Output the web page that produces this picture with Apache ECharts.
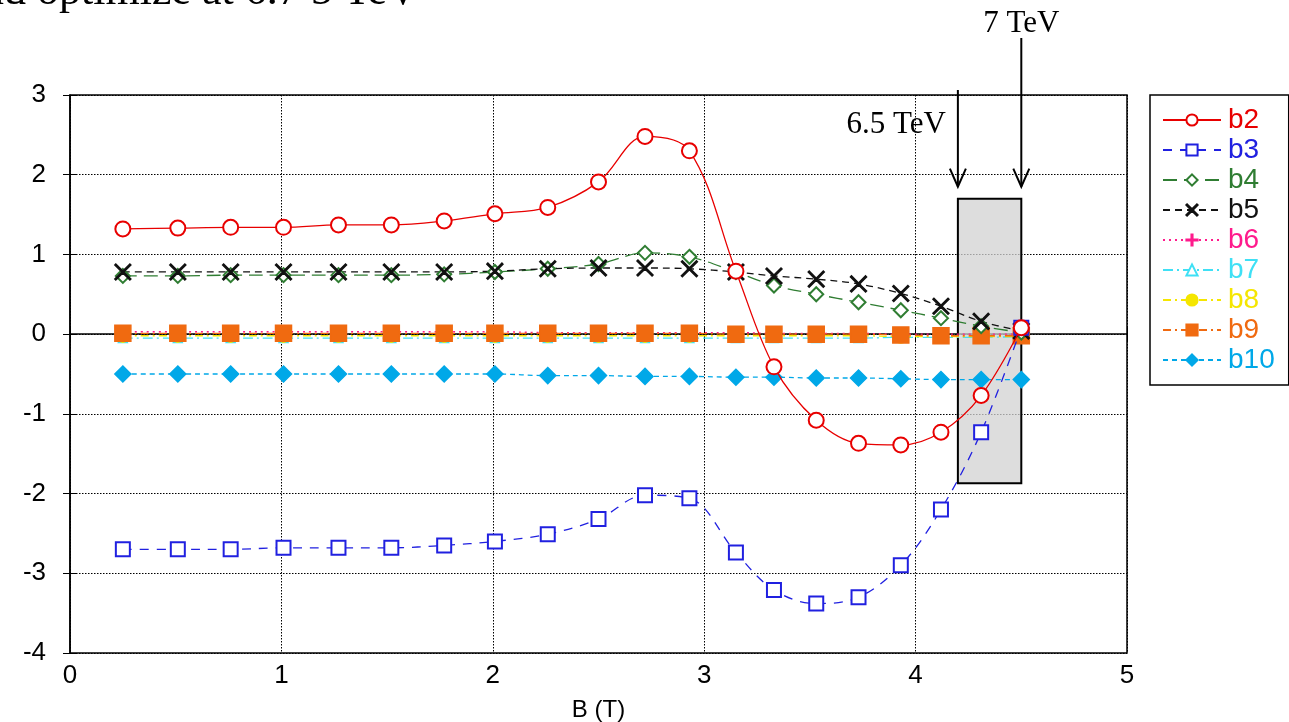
<!DOCTYPE html>
<html>
<head>
<meta charset="utf-8">
<script src="https://cdn.jsdelivr.net/npm/echarts@6/dist/echarts.min.js"></script>
<style>
  html, body { margin: 0; padding: 0; background: #fff; }
  #main { width: 1289px; height: 722px; }
</style>
</head>
<body>
<div id="main"></div>
<script>
// field values
var B = [0.25, 0.51, 0.76, 1.01, 1.27, 1.52, 1.77, 2.01, 2.26, 2.5, 2.72, 2.93, 3.15, 3.33, 3.53, 3.73, 3.93, 4.12, 4.31, 4.5];

var b2 = [1.32, 1.33, 1.34, 1.34, 1.37, 1.37, 1.42, 1.51, 1.59, 1.91, 2.48, 2.30, 0.79, -0.41, -1.08, -1.37, -1.39, -1.23, -0.77, 0.08];
var b3 = [-2.70, -2.70, -2.70, -2.68, -2.68, -2.68, -2.65, -2.60, -2.51, -2.32, -2.02, -2.06, -2.74, -3.21, -3.38, -3.30, -2.90, -2.20, -1.23, 0.08];
var b4 = [0.73, 0.73, 0.74, 0.74, 0.74, 0.74, 0.75, 0.78, 0.82, 0.88, 1.02, 0.97, 0.78, 0.61, 0.50, 0.40, 0.30, 0.20, 0.10, 0.02];
var b5 = [0.78, 0.78, 0.78, 0.78, 0.78, 0.78, 0.78, 0.79, 0.82, 0.83, 0.83, 0.82, 0.78, 0.73, 0.69, 0.63, 0.51, 0.35, 0.16, 0.04];
var b6 = [0.03, 0.03, 0.03, 0.03, 0.03, 0.03, 0.03, 0.03, 0.02, 0.02, 0.02, 0.02, 0.02, 0.01, 0.01, 0.01, 0.0, 0.0, 0.0, 0.0];
var b7 = [-0.05, -0.05, -0.05, -0.05, -0.05, -0.05, -0.05, -0.05, -0.05, -0.05, -0.05, -0.05, -0.05, -0.05, -0.05, -0.05, -0.04, -0.04, -0.04, -0.03];
var b8 = [-0.02, -0.02, -0.02, -0.02, -0.02, -0.02, -0.02, -0.02, -0.02, -0.02, -0.02, -0.02, -0.02, -0.02, -0.02, -0.02, -0.03, -0.03, -0.03, -0.03];
var b9 = [0.01, 0.01, 0.01, 0.01, 0.01, 0.01, 0.01, 0.01, 0.01, 0.01, 0.01, 0.01, 0.0, 0.0, 0.0, 0.0, -0.01, -0.02, -0.02, -0.02];
var b10 = [-0.50, -0.50, -0.50, -0.50, -0.50, -0.50, -0.50, -0.50, -0.52, -0.52, -0.53, -0.53, -0.54, -0.54, -0.55, -0.55, -0.56, -0.57, -0.57, -0.57];

var xTicks = [0, 1, 2, 3, 4, 5];
var yTicks = [-4, -3, -2, -1, 0, 1, 2, 3];

// shaded window between 6.5 TeV and 7 TeV
var windowB = [4.2, 4.5];
var windowY = [-1.87, 1.7];
var arrowTipY = 1.85;

var crossPath = 'path://M0,0.6L0.6,0L5,4.4L9.4,0L10,0.6L5.6,5L10,9.4L9.4,10L5,5.6L0.6,10L0,9.4L4.4,5Z';
var plusPath = 'path://M4.5,0H5.5V4.5H10V5.5H5.5V10H4.5V5.5H0V4.5H4.5Z';

function pairs(ys) {
    return B.map(function (b, i) { return [b, ys[i]]; });
}

function mk(name, ys, color, symbol, size, dash, width, z) {
    return {
        name: name,
        type: 'line',
        data: pairs(ys),
        smooth: 0.35,
        symbol: symbol,
        symbolSize: size,
        z: z,
        color: color,
        lineStyle: { color: color, width: width || 1.3, type: dash },
        itemStyle: { color: color, borderColor: color, borderWidth: 1.5 },
        emphasis: { disabled: true },
        animation: false
    };
}

var series = [
    mk('b10', b10, '#00a8e8', 'diamond', 16, [5, 4], 1.3, 2),
    mk('b7', b7, '#3fe0f5', 'emptyTriangle', 8, [10, 4, 2, 4], 1.3, 2),
    mk('b8', b8, '#f5e600', 'circle', 13, [8, 4, 2, 4], 1.3, 2),
    mk('b6', b6, '#ff1a8c', plusPath, 8, [2, 4], 1.3, 2),
    mk('b9', b9, '#f06a10', 'rect', 16, [8, 4, 2, 4], 1.3, 3),
    mk('b4', b4, '#2f7d32', 'emptyDiamond', 14, [14, 7], 1.3, 4),
    mk('b5', b5, '#111111', crossPath, 16, [7, 5], 1.3, 4),
    mk('b3', b3, '#2020e0', 'emptyRect', 14, [9, 8], 1.3, 5),
    mk('b2', b2, '#e80000', 'emptyCircle', 15, 'solid', 1.3, 6),
    {
        type: 'line',
        data: [],
        z: 8,
        silent: true,
        markArea: {
            silent: true,
            itemStyle: { color: 'rgba(210,210,210,0.75)', borderColor: '#000', borderWidth: 2 },
            data: [[{ coord: [windowB[0], windowY[1]] }, { coord: [windowB[1], windowY[0]] }]]
        }
    }
];

var legendNames = ['b2', 'b3', 'b4', 'b5', 'b6', 'b7', 'b8', 'b9', 'b10'];
var legendColors = {
    b2: '#e80000', b3: '#2020e0', b4: '#2f7d32', b5: '#111111', b6: '#ff1a8c',
    b7: '#3fe0f5', b8: '#f5e600', b9: '#f06a10', b10: '#00a8e8'
};

var chart = echarts.init(document.getElementById('main'), null, { renderer: 'canvas' });

var sans = 'Liberation Sans, Arial, sans-serif';
var labelFont = { fontFamily: sans, fontSize: 26, color: '#000' };

var option = {
    backgroundColor: '#ffffff',
    animation: false,
    grid: {
        left: 70, right: 162, top: 95, bottom: 69,
        outerBoundsMode: 'none',
        show: true, borderColor: '#000', borderWidth: 1.5, backgroundColor: 'transparent'
    },
    legend: {
        orient: 'vertical',
        left: 1150,
        top: 95,
        padding: [11, 14, 11, 12],
        itemGap: 2,
        itemWidth: 58,
        itemHeight: 14,
        backgroundColor: '#fff',
        borderColor: '#000',
        borderWidth: 1.5,
        selectedMode: false,
        textStyle: { fontFamily: sans, fontSize: 28, lineHeight: 28, padding: [0, 0, 0, 2] },
        data: legendNames.map(function (n) {
            return { name: n, textStyle: { color: legendColors[n] } };
        })
    },
    xAxis: [{
        type: 'value',
        min: xTicks[0], max: xTicks[xTicks.length - 1], interval: 1,
        name: 'B (T)', nameLocation: 'middle', nameGap: 45,
        nameTextStyle: { fontFamily: sans, fontSize: 24, color: '#000' },
        axisLine: { lineStyle: { color: '#000', width: 1.5 } },
        axisTick: { inside: true, length: 7, lineStyle: { color: '#000' } },
        axisLabel: Object.assign({ margin: 10 }, labelFont),
        splitLine: { show: true, lineStyle: { color: '#000', type: [1.5, 1.5], width: 1 } }
    }, {
        type: 'value', position: 'top',
        min: xTicks[0], max: xTicks[xTicks.length - 1], interval: 1,
        axisLine: { show: false },
        axisTick: { inside: true, length: 7, lineStyle: { color: '#000' } },
        axisLabel: { show: false }, splitLine: { show: false }
    }],
    yAxis: [{
        type: 'value',
        min: yTicks[0], max: yTicks[yTicks.length - 1], interval: 1,
        axisLine: { show: true, lineStyle: { color: '#000', width: 1.5 } },
        axisTick: { show: true, inside: true, length: 7, lineStyle: { color: '#000' } },
        axisLabel: Object.assign({ margin: 24 }, labelFont),
        splitLine: { show: true, lineStyle: { color: '#000', type: [1.5, 1.5], width: 1 } }
    }, {
        type: 'value', position: 'right',
        min: yTicks[0], max: yTicks[yTicks.length - 1], interval: 1,
        axisLine: { show: false },
        axisTick: { show: true, inside: true, length: 7, lineStyle: { color: '#000' } },
        axisLabel: { show: false }, splitLine: { show: false }
    }],
    series: series
};

chart.setOption(option);

// annotations placed from data coordinates
function px(b, y) { return chart.convertToPixel({ xAxisIndex: 0, yAxisIndex: 0 }, [b, y]); }
var tipL = px(windowB[0], arrowTipY);
var tipR = px(windowB[1], arrowTipY);
var serif = 'Liberation Serif, DejaVu Serif, Times New Roman, serif';

function arrow(tip, startY) {
    return [
        { type: 'line', shape: { x1: tip[0], y1: startY, x2: tip[0], y2: tip[1] }, style: { stroke: '#000', lineWidth: 2 }, z: 20 },
        { type: 'polyline', shape: { points: [[tip[0] - 8, tip[1] - 18], [tip[0], tip[1]], [tip[0] + 8, tip[1] - 18]] }, style: { stroke: '#000', lineWidth: 2, fill: null }, z: 20 }
    ];
}

chart.setOption({
    graphic: [].concat(
        arrow(tipL, 90),
        arrow(tipR, 38),
        [
            { type: 'text', x: tipL[0] - 12, y: 125, z: 20,
              style: { text: '6.5 TeV', font: '31px ' + serif, fill: '#000', align: 'right', verticalAlign: 'middle' } },
            { type: 'text', x: tipR[0], y: 24, z: 20,
              style: { text: '7 TeV', font: '31px ' + serif, fill: '#000', align: 'center', verticalAlign: 'middle' } },
            { type: 'text', x: -18, y: 14, z: 20,
              style: { text: 'nd optimize at 6.7 5 TeV', font: '44px ' + serif, fill: '#000', align: 'left', verticalAlign: 'bottom' } }
        ]
    )
});
</script>
</body>
</html>
